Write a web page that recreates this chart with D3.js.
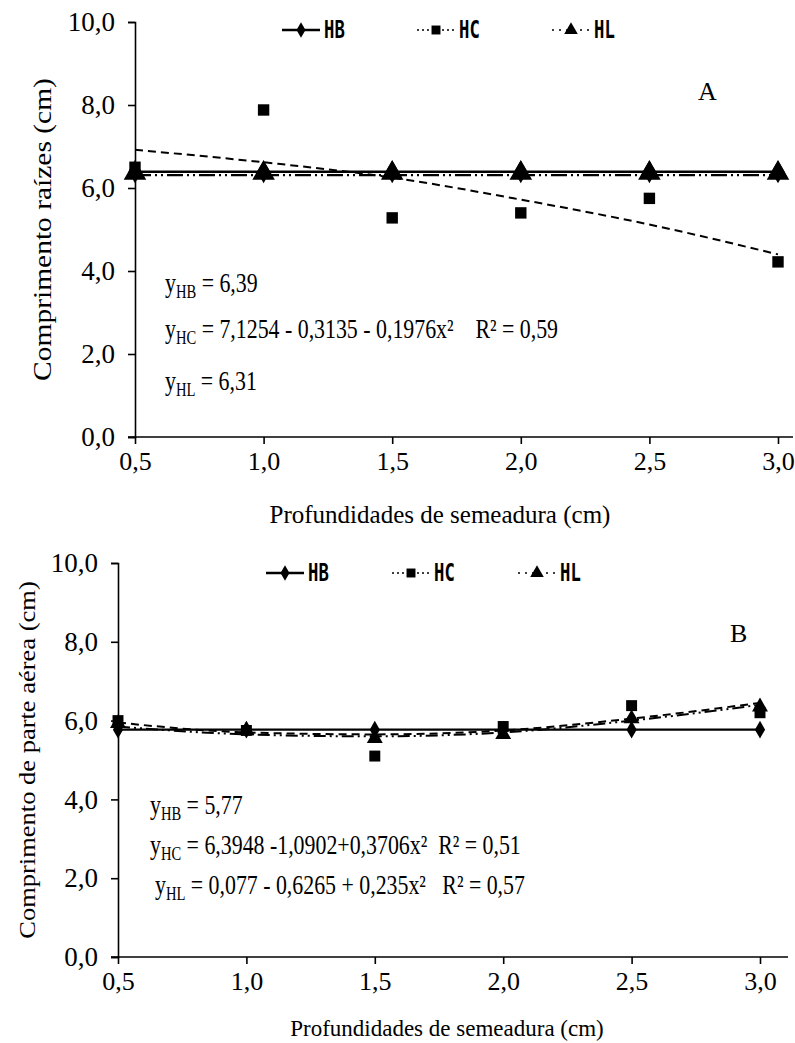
<!DOCTYPE html>
<html>
<head>
<meta charset="utf-8">
<script src="https://cdn.jsdelivr.net/npm/d3@7"></script>
<style>
  body { margin: 0; padding: 0; background: #fff; }
  svg { display: block; }
  .eq { white-space: pre; transform-box: fill-box; transform-origin: 0 50%; transform: scaleX(0.81); }
  .leg { transform-box: fill-box; transform-origin: 0 50%; transform: scaleX(0.72); }
  .ytitle { transform-box: fill-box; transform-origin: 50% 50%; transform: scaleY(0.88); }
</style>
</head>
<body>
<div id="chart"></div>
<script>
// Sowing depths (cm)
const depths = [0.5, 1.0, 1.5, 2.0, 2.5, 3.0];
const yTicks = [0, 2, 4, 6, 8, 10];

// Panel A - root length (cm)
const rootHB = [6.39, 6.39, 6.39, 6.39, 6.39, 6.39];
const rootHC = [6.5, 7.88, 5.28, 5.4, 5.75, 4.22];
const rootHL = [6.31, 6.31, 6.31, 6.31, 6.31, 6.31];
const rootHCfit = [6.92, 6.62, 6.25, 5.72, 5.12, 4.4];

// Panel B - shoot length (cm)
const shootHB = [5.77, 5.77, 5.77, 5.77, 5.77, 5.77];
const shootHC = [6.0, 5.75, 5.1, 5.85, 6.38, 6.2];
const shootHL = [5.88, 5.7, 5.5, 5.6, 6.0, 6.3];
const shootHCfit = [5.95, 5.7, 5.65, 5.75, 6.05, 6.45];
const shootHLfit = [5.85, 5.65, 5.6, 5.7, 6.0, 6.4];

const W = 795, H = 1043;
const svg = d3.select("#chart").append("svg")
    .attr("width", W)
    .attr("height", H);

const fmt = d => d3.format(".1f")(d).replace(".", ",");
const serif = "Liberation Serif";

function drawPanel(p) {
    const x = d3.scaleLinear().domain([0.5, 3.0]).range([p.x0, p.x1]);
    const y = d3.scaleLinear().domain([0, 10]).range([p.yBottom, p.yTop]);
    const g = svg.append("g");

    // axes
    const yAxis = g.append("g")
        .attr("transform", `translate(${p.x0},0)`)
        .call(d3.axisLeft(y).tickValues(yTicks).tickFormat(fmt).tickSizeOuter(0).tickSize(7).tickPadding(13));
    const xAxis = g.append("g")
        .attr("transform", `translate(0,${p.yBottom})`)
        .call(d3.axisBottom(x).tickValues(depths).tickFormat(fmt).tickSizeOuter(0).tickSize(7).tickPadding(8));
    xAxis.select(".domain").remove();
    g.append("line")
        .attr("x1", p.x0 - 7).attr("x2", p.xEnd)
        .attr("y1", p.yBottom).attr("y2", p.yBottom)
        .attr("stroke", "#000").attr("stroke-width", 1.6);
    yAxis.attr("font-family", serif).attr("font-size", 27);
    xAxis.attr("font-family", serif).attr("font-size", 26);
    [yAxis, xAxis].forEach(a => {
        a.selectAll("text").attr("fill", "#000");
        a.selectAll("line, path").attr("stroke", "#000").attr("stroke-width", 1.6);
    });

    // axis titles
    g.append("g")
        .attr("transform", `translate(${p.yTitleX},${(p.yTop + p.yBottom) / 2}) rotate(-90)`)
        .append("text")
        .attr("class", "ytitle")
        .attr("text-anchor", "middle")
        .attr("font-family", serif).attr("font-size", p.yTitleSize)
        .text(p.yTitle);
    g.append("text")
        .attr("x", p.xTitleX).attr("y", p.xTitleY)
        .attr("text-anchor", "middle")
        .attr("font-family", serif).attr("font-size", p.xTitleSize)
        .text("Profundidades de semeadura (cm)");

    // panel letter
    g.append("text")
        .attr("x", p.letterX).attr("y", p.letterY)
        .attr("font-family", serif).attr("font-size", 26)
        .text(p.letter);

    const line = d3.line().x((d, i) => x(depths[i])).y(d => y(d));
    const curve = d3.line().x((d, i) => x(depths[i])).y(d => y(d)).curve(d3.curveMonotoneX);

    // lines
    g.append("path").datum(p.hb).attr("d", line)
        .attr("fill", "none").attr("stroke", "#000").attr("stroke-width", 2.4);
    if (p.hlFit) {
        g.append("path").datum(p.hlFit).attr("d", curve)
            .attr("fill", "none").attr("stroke", "#000").attr("stroke-width", 2)
            .attr("stroke-dasharray", "12,4,2,4,2,4");
    } else {
        g.append("path").datum(p.hl).attr("d", line)
            .attr("fill", "none").attr("stroke", "#000").attr("stroke-width", 2.2)
            .attr("stroke-dasharray", "16,4,2,4,2,4");
    }
    g.append("path").datum(p.hcFit).attr("d", curve)
        .attr("fill", "none").attr("stroke", "#000").attr("stroke-width", 2)
        .attr("stroke-dasharray", "8,5");

    // markers
    const sym = (type, size) => d3.symbol().type(type).size(size)();
    g.selectAll(".hb").data(p.hb).enter().append("path")
        .attr("transform", (d, i) => `translate(${x(depths[i])},${y(d)})`)
        .attr("d", sym(d3.symbolDiamond, p.diamondSize));
    g.selectAll(".hl").data(p.hl).enter().append("path")
        .attr("transform", (d, i) => `translate(${x(depths[i])},${y(d) - 2})`)
        .attr("d", sym(d3.symbolTriangle, p.triSize));
    g.selectAll(".hc").data(p.hc).enter().append("path")
        .attr("transform", (d, i) => `translate(${x(depths[i])},${y(d)})`)
        .attr("d", sym(d3.symbolSquare, p.squareSize));

    // legend
    const lg = g.append("g").attr("transform", `translate(${p.legendX},${p.legendY})`);
    const items = [
        {name: "HB", dx: 0, dash: null, sym: d3.symbolDiamond, w: 2.6},
        {name: "HC", dx: p.legendStep, dash: "2,3", sym: d3.symbolSquare, w: 1.4},
        {name: "HL", dx: p.legendStep * 2, dash: "2,5", sym: d3.symbolTriangle, w: 1.4}
    ];
    items.forEach(it => {
        const ig = lg.append("g").attr("transform", `translate(${it.dx},0)`);
        ig.append("line").attr("x1", 0).attr("x2", 38).attr("y1", 0).attr("y2", 0)
            .attr("stroke", "#000").attr("stroke-width", it.w)
            .attr("stroke-dasharray", it.dash);
        ig.append("path").attr("transform", "translate(19,0)")
            .attr("d", sym(it.sym, it.name === "HB" ? 70 : 80));
        ig.append("text").attr("class", "leg").attr("x", 42).attr("y", 8)
            .attr("font-family", "DejaVu Sans Mono")
            .attr("font-weight", "bold").attr("font-size", 24)
            .text(it.name);
    });

    // equations
    p.eqs.forEach(e => {
        const t = g.append("text").attr("class", "eq").attr("x", e.x).attr("y", e.y)
            .attr("font-family", serif).attr("font-size", 27);
        t.append("tspan").text("y");
        t.append("tspan").attr("font-size", 18).attr("dy", 6).text(e.sub);
        t.append("tspan").attr("dy", -6).text(e.rest);
    });
}

drawPanel({
    x0: 135, x1: 778, xEnd: 793, yTop: 22, yBottom: 437,
    yTitle: "Comprimento raízes (cm)", yTitleX: 52, yTitleSize: 29.5,
    xTitleX: 440, xTitleY: 523, xTitleSize: 25,
    letter: "A", letterX: 698, letterY: 100,
    hb: rootHB, hc: rootHC, hl: rootHL, hcFit: rootHCfit, hlFit: null,
    diamondSize: 150, squareSize: 130, triSize: 220,
    legendX: 282, legendY: 30, legendStep: 135,
    eqs: [
        {x: 165, y: 292, sub: "HB", rest: " = 6,39"},
        {x: 165, y: 338, sub: "HC", rest: " = 7,1254 - 0,3135 - 0,1976x²    R² = 0,59"},
        {x: 165, y: 390, sub: "HL", rest: " = 6,31"}
    ]
});

drawPanel({
    x0: 118, x1: 760, xEnd: 788, yTop: 563, yBottom: 957,
    yTitle: "Comprimento de parte aérea (cm)", yTitleX: 36, yTitleSize: 26.5,
    xTitleX: 447, xTitleY: 1036, xTitleSize: 23,
    letter: "B", letterX: 730, letterY: 642,
    hb: shootHB, hc: shootHC, hl: shootHL, hcFit: shootHCfit, hlFit: shootHLfit,
    diamondSize: 90, squareSize: 120, triSize: 110,
    legendX: 266, legendY: 573, legendStep: 126,
    eqs: [
        {x: 150, y: 814, sub: "HB", rest: " = 5,77"},
        {x: 150, y: 854, sub: "HC", rest: " = 6,3948 -1,0902+0,3706x²  R² = 0,51"},
        {x: 155, y: 894, sub: "HL", rest: " = 0,077 - 0,6265 + 0,235x²   R² = 0,57"}
    ]
});
</script>
</body>
</html>
